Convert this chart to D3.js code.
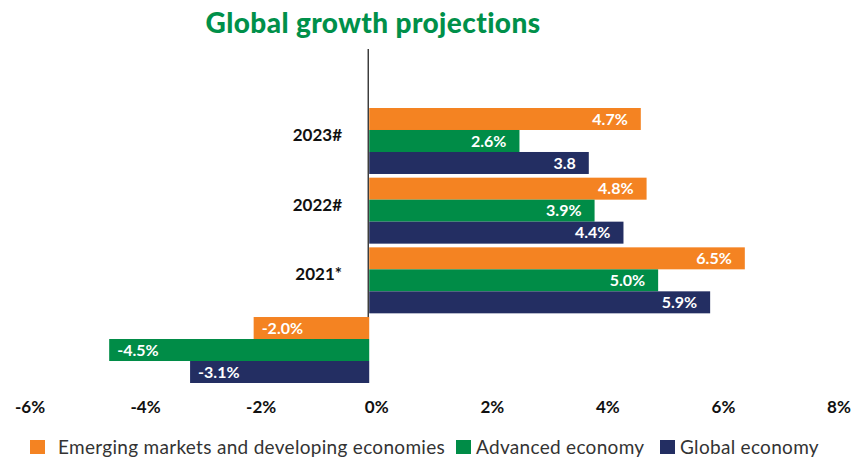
<!DOCTYPE html>
<html>
<head>
<meta charset="utf-8">
<script src="https://cdn.jsdelivr.net/npm/d3@7"></script>
<style>
  html, body { margin: 0; background: #fff; }
  text { font-family: Lato, "Open Sans", sans-serif; }
</style>
</head>
<body>
<script>
// data
const years = ['2023#', '2022#', '2021*', '2020'];
const seriesNames = ['Emerging markets and developing economies', 'Advanced economy', 'Global economy'];
const emerging = [4.7, 4.8, 6.5, -2.0];
const advanced = [2.6, 3.9, 5.0, -4.5];
const globalEco = [3.8, 4.4, 5.9, -3.1];
const labels = [
  ['4.7%', '2.6%', '3.8'],
  ['4.8%', '3.9%', '4.4%'],
  ['6.5%', '5.0%', '5.9%'],
  ['-2.0%', '-4.5%', '-3.1%']
];
const ticks = [-6, -4, -2, 0, 2, 4, 6, 8];
const colors = ['#f48322', '#008c47', '#232e62'];

const width = 866;
const height = 457;

const svg = d3.select('body')
  .append('svg')
  .attr('width', width)
  .attr('height', height);

const x = d3.scaleLinear().domain([-6, 8]).range([22.5, 831.5]);
const y = d3.scaleBand().domain(years).range([108, 383]).paddingInner(0.053).paddingOuter(0);
const ys = d3.scaleBand().domain(d3.range(3)).range([0, y.bandwidth()]);

const rows = years.map((yr, i) => ({
  year: yr,
  values: [emerging[i], advanced[i], globalEco[i]],
  labels: labels[i]
}));

// title
svg.append('text')
  .attr('x', 373)
  .attr('y', 33)
  .attr('text-anchor', 'middle')
  .attr('font-size', 28)
  .attr('font-weight', 900)
  .attr('letter-spacing', 0.4)
  .attr('fill', '#00904a')
  .text('Global growth projections');

// year labels (drawn first, bars go over them)
svg.append('g').selectAll('text')
  .data(rows)
  .join('text')
  .attr('x', 342)
  .attr('y', d => y(d.year) + y.bandwidth() / 2 - 6)
  .attr('dy', '0.35em')
  .attr('text-anchor', 'end')
  .attr('font-size', 17)
  .attr('font-weight', 700)
  .attr('fill', '#111')
  .text(d => d.year);

// zero line
svg.append('line')
  .attr('x1', x(0) - 1).attr('x2', x(0) - 1)
  .attr('y1', 49).attr('y2', 383)
  .attr('stroke', '#111')
  .attr('stroke-width', 1.2);

const groups = svg.append('g').selectAll('g')
  .data(rows)
  .join('g')
  .attr('transform', d => `translate(0,${y(d.year)})`);

groups.selectAll('rect')
  .data(d => d.values.map((v, k) => ({ v, k })))
  .join('rect')
  .attr('x', d => x(Math.min(0, d.v)))
  .attr('y', d => ys(d.k))
  .attr('width', d => Math.abs(x(d.v) - x(0)))
  .attr('height', ys.bandwidth())
  .attr('fill', d => colors[d.k]);

groups.selectAll('text')
  .data(d => d.values.map((v, k) => ({ v, k, label: d.labels[k] })))
  .join('text')
  .attr('x', d => d.v >= 0 ? x(d.v) - 13 : x(d.v) + 8)
  .attr('y', d => ys(d.k) + ys.bandwidth() / 2)
  .attr('dy', '0.36em')
  .attr('text-anchor', d => d.v >= 0 ? 'end' : 'start')
  .attr('font-size', 16)
  .attr('font-weight', 700)
  .attr('fill', '#fff')
  .text(d => d.label);

// x axis labels only
const axis = d3.axisBottom(x).tickValues(ticks).tickFormat(d => d + '%').tickSize(0);
const ax = svg.append('g')
  .attr('transform', 'translate(7,398)')
  .call(axis);
ax.select('.domain').remove();
ax.selectAll('text')
  .attr('font-family', 'Lato, sans-serif')
  .attr('font-size', 17)
  .attr('font-weight', 700)
  .attr('fill', '#111');

// legend
const legendX = [30, 456, 660];
const legend = svg.append('g').selectAll('g')
  .data(seriesNames)
  .join('g')
  .attr('transform', (d, i) => `translate(${legendX[i]},440)`);
legend.append('rect')
  .attr('width', 15)
  .attr('height', 14)
  .attr('fill', (d, i) => colors[i]);
legend.append('text')
  .attr('x', (d, i) => i === 0 ? 28 : 20)
  .attr('y', 7)
  .attr('dy', '0.36em')
  .attr('font-size', 19)
  .attr('letter-spacing', 0.3)
  .attr('fill', '#333')
  .text(d => d);
</script>
</body>
</html>
